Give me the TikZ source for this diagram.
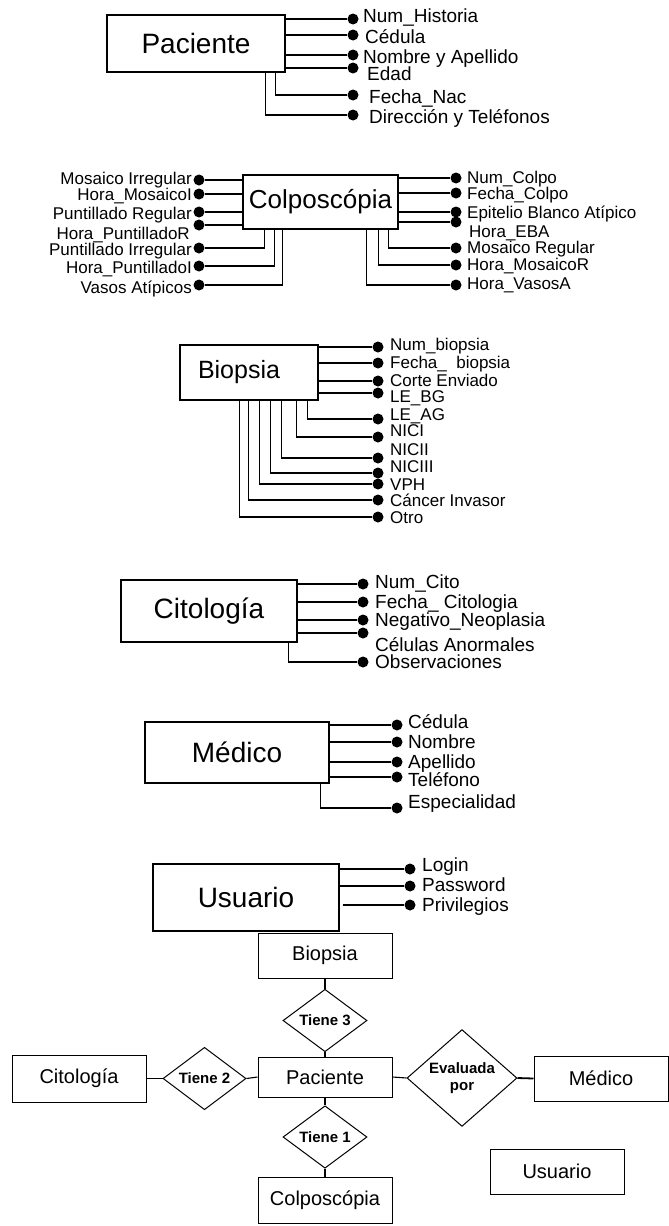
\documentclass[tikz,border=0pt]{standalone}
\usepackage{fontspec}
\setmainfont{Liberation Sans}
\usetikzlibrary{shapes.geometric}
\begin{document}
\begin{tikzpicture}[x=1pt,y=-1pt,
  ent/.style={draw, line width=1.1pt, inner sep=0, font=\fontsize{28}{28}\selectfont},
  entS/.style={ent, font=\fontsize{26}{26}\selectfont},
  ent2/.style={draw, line width=1pt, inner sep=0, minimum width=134, font=\fontsize{20}{20}\selectfont},
  rel/.style={draw, diamond, line width=1pt, inner sep=0, font=\fontsize{15}{17}\selectfont\bfseries, align=center},
  dotn/.style={circle, fill=black, inner sep=0, minimum size=11},
  attr/.style={anchor=west, inner sep=0, text height=12.2, text depth=0, font=\fontsize{17}{17}\selectfont},
  lattr/.style={attr, anchor=east},
  attrL/.style={anchor=west, inner sep=0, text height=13.6, text depth=0, font=\fontsize{19}{19}\selectfont},
  link/.style={line width=1.1pt},
]
\fill[white] (0,0) rectangle (669,1226);
\useasboundingbox (0,0) rectangle (669,1226);

% ---------------- Paciente ----------------
\node[ent, minimum width=178, minimum height=57] (pA) at (196,43.5) {Paciente};
\node[dotn] (pA1) at (353,19) {};
\node[dotn] (pA2) at (353,35) {};
\node[dotn] (pA3) at (353,55) {};
\node[dotn] (pA4) at (353,68) {};
\node[dotn] (pA5) at (353,95) {};
\node[dotn] (pA6) at (353,115) {};
\draw[link] (pA.east |- pA1) -- (pA1);
\draw[link] (pA.east |- pA2) -- (pA2);
\draw[link] (pA.east |- pA3) -- (pA3);
\draw[link] (pA.east |- pA4) -- (pA4);
\draw[link] (pA.south east) ++(-10,0) |- (pA5);
\draw[link] (pA.south east) ++(-20,0) |- (pA6);
\node[attrL] (pA1t) at (363,16) {Num\_Historia};
\node[attrL] (pA2t) at (365,37) {Cédula};
\node[attrL] (pA3t) at (363,57) {Nombre y Apellido};
\node[attrL] (pA4t) at (367,74) {Edad};
\node[attrL] (pA5t) at (369,97) {Fecha\_Nac};
\node[attrL] (pA6t) at (369,117) {Dirección y Teléfonos};

% ---------------- Colposcopia ----------------
\node[entS, minimum width=155, minimum height=54] (cB) at (320.5,202) {Colposcópia};
\node[dotn] (cR1) at (456,178) {};
\node[dotn] (cR2) at (456,193) {};
\node[dotn] (cR3) at (456,212) {};
\node[dotn] (cR4) at (456,222) {};
\node[dotn] (cR5) at (456,248) {};
\node[dotn] (cR6) at (456,265) {};
\node[dotn] (cR7) at (456,285) {};
\draw[link] (cB.east |- cR1) -- (cR1);
\draw[link] (cB.east |- cR2) -- (cR2);
\draw[link] (cB.east |- cR3) -- (cR3);
\draw[link] (cB.east |- cR4) -- (cR4);
\draw[link] (cB.south east) ++(-10,0) |- (cR5);
\draw[link] (cB.south east) ++(-20,0) |- (cR6);
\draw[link] (cB.south east) ++(-32,0) |- (cR7);
\node[attr] (cR1t) at (467,177) {Num\_Colpo};
\node[attr] (cR2t) at (467,193) {Fecha\_Colpo};
\node[attr] (cR3t) at (467,212) {Epitelio Blanco Atípico};
\node[attr] (cR4t) at (469,231) {Hora\_EBA};
\node[attr] (cR5t) at (467,247) {Mosaico Regular};
\node[attr] (cR6t) at (467,264) {Hora\_MosaicoR};
\node[attr] (cR7t) at (467,283) {Hora\_VasosA};
\node[dotn] (cL1) at (199,180) {};
\node[dotn] (cL2) at (199,194) {};
\node[dotn] (cL3) at (199,212) {};
\node[dotn] (cL4) at (199,225) {};
\node[dotn] (cL5) at (199,248) {};
\node[dotn] (cL6) at (199,266) {};
\node[dotn] (cL7) at (199,285) {};
\draw[link] (cB.west |- cL1) -- (cL1);
\draw[link] (cB.west |- cL2) -- (cL2);
\draw[link] (cB.west |- cL3) -- (cL3);
\draw[link] (cB.west |- cL4) -- (cL4);
\draw[link] (cB.south west) ++(22,0) |- (cL5);
\draw[link] (cB.south west) ++(32,0) |- (cL6);
\draw[link] (cB.south west) ++(40,0) |- (cL7);
\node[lattr] (cL1t) at (192,178) {Mosaico Irregular};
\node[lattr] (cL2t) at (192,194) {Hora\_MosaicoI};
\node[lattr] (cL3t) at (192,213) {Puntillado Regular};
\node[lattr] (cL4t) at (190,233) {Hora\_PuntilladoR};
\node[lattr] (cL5t) at (192,249) {Puntillado Irregular};
\node[lattr] (cL6t) at (192,267) {Hora\_PuntilladoI};
\node[lattr] (cL7t) at (192,287) {Vasos Atípicos};

% ---------------- Biopsia ----------------
\node[draw, line width=1.1pt, minimum width=138, minimum height=55] (bA) at (249,372.5) {};
\node[inner sep=0, font=\fontsize{25}{25}\selectfont] (bAt) at (239,372.5) {Biopsia};
\node[dotn] (b1) at (378,347) {};
\node[dotn] (b2) at (378,363) {};
\node[dotn] (b3) at (378,381) {};
\node[dotn] (b4) at (378,393) {};
\node[dotn] (b5) at (378,419) {};
\node[dotn] (b6) at (378,437) {};
\node[dotn] (b7) at (378,458) {};
\node[dotn] (b8) at (378,473) {};
\node[dotn] (b9) at (378,484) {};
\node[dotn] (b10) at (378,500) {};
\node[dotn] (b11) at (378,517) {};
\draw[link] (bA.east |- b1) -- (b1);
\draw[link] (bA.east |- b2) -- (b2);
\draw[link] (bA.east |- b3) -- (b3);
\draw[link] (bA.east |- b4) -- (b4);
\draw[link] (bA.south west) ++(128,0) |- (b5);
\draw[link] (bA.south west) ++(117,0) |- (b6);
\draw[link] (bA.south west) ++(102,0) |- (b7);
\draw[link] (bA.south west) ++(91,0) |- (b8);
\draw[link] (bA.south west) ++(80,0) |- (b9);
\draw[link] (bA.south west) ++(69,0) |- (b10);
\draw[link] (bA.south west) ++(60,0) |- (b11);
\node[attr] (b1t) at (390,344) {Num\_biopsia};
\node[attr] (b2t) at (390,362) {Fecha\_\ \ biopsia};
\node[attr] (b3t) at (390,380) {Corte Enviado};
\node[attr] (b4t) at (390,396) {LE\_BG};
\node[attr] (b5t) at (390,414) {LE\_AG};
\node[attr] (b6t) at (390,430) {NICI};
\node[attr] (b7t) at (390,449) {NICII};
\node[attr] (b8t) at (390,466) {NICIII};
\node[attr] (b9t) at (390,484) {VPH};
\node[attr] (b10t) at (390,500) {Cáncer Invasor};
\node[attr] (b11t) at (390,517) {Otro};

% ---------------- Citologia ----------------
\node[ent, minimum width=176, minimum height=62] (ciA) at (209,611) {Citología};
\node[dotn] (ci1) at (363,584) {};
\node[dotn] (ci2) at (363,602) {};
\node[dotn] (ci3) at (363,620) {};
\node[dotn] (ci4) at (363,633) {};
\node[dotn] (ci5) at (363,662) {};
\draw[link] (ciA.east |- ci1) -- (ci1);
\draw[link] (ciA.east |- ci2) -- (ci2);
\draw[link] (ciA.east |- ci3) -- (ci3);
\draw[link] (ciA.east |- ci4) -- (ci4);
\draw[link] (ciA.south east) ++(-9,0) |- (ci5);
\node[attrL] (ci1t) at (375,582) {Num\_Cito};
\node[attrL] (ci2t) at (375,602) {Fecha\_ Citologia};
\node[attrL] (ci3t) at (375,620) {Negativo\_Neoplasia};
\node[attrL] (ci4t) at (375,645) {Células Anormales};
\node[attrL] (ci5t) at (375,662) {Observaciones};

% ---------------- Medico ----------------
\node[ent, minimum width=184, minimum height=61] (mA) at (237,752.5) {Médico};
\node[dotn] (m1) at (397,725) {};
\node[dotn] (m2) at (397,742) {};
\node[dotn] (m3) at (397,762) {};
\node[dotn] (m4) at (397,777) {};
\node[dotn] (m5) at (397,808) {};
\draw[link] (mA.east |- m1) -- (m1);
\draw[link] (mA.east |- m2) -- (m2);
\draw[link] (mA.east |- m3) -- (m3);
\draw[link] (mA.east |- m4) -- (m4);
\draw[link] (mA.south east) ++(-9,0) |- (m5);
\node[attrL] (m1t) at (408,722) {Cédula};
\node[attrL] (m2t) at (408,742) {Nombre};
\node[attrL] (m3t) at (408,762) {Apellido};
\node[attrL] (m4t) at (408,780) {Teléfono};
\node[attrL] (m5t) at (408,802) {Especialidad};

% ---------------- Usuario ----------------
\node[ent, minimum width=186, minimum height=67] (uA) at (246,897.5) {Usuario};
\node[dotn] (u1) at (410,869) {};
\node[dotn] (u2) at (410,886) {};
\node[dotn] (u3) at (410,905) {};
\draw[link] (uA.east |- u1) -- (u1);
\draw[link] (uA.east |- u2) -- (u2);
\draw[link] ([xshift=3pt]uA.east |- u3) -- (u3);
\node[attrL] (u1t) at (422,865) {Login};
\node[attrL] (u2t) at (422,885) {Password};
\node[attrL] (u3t) at (422,905) {Privilegios};

% ---------------- ER diagram ----------------
\node[ent2, minimum height=45] (eB) at (325,955.5) {Biopsia};
\node[rel, minimum width=84, minimum height=51] (r3) at (325,1020.5) {Tiene 3};
\node[ent2, minimum height=40] (eP) at (325,1077) {Paciente};
\node[ent2, minimum height=47] (eCi) at (79,1078.5) {Citología};
\node[rel, minimum width=83, minimum height=51] (r2) at (204.5,1078.5) {Tiene 2};
\node[rel, minimum width=84, minimum height=50] (r1) at (325,1137) {Tiene 1};
\node[ent2, minimum height=46] (eC) at (325,1200) {Colposcópia};
\node[rel, minimum width=110, minimum height=64] (rE) at (462,1078) {Evaluada\\por};
\node[ent2, minimum height=45] (eM) at (601,1078.5) {Médico};
\node[ent2, minimum height=45] (eU) at (557,1171.5) {Usuario};
\draw[link] (eB.south) -- (r3.north);
\draw[link] (r3.south) -- (eP.north);
\draw[link] (eP.south) -- (r1.north);
\draw[link] (r1.south) -- (eC.north);
\draw[link] (eCi.east) -- (r2.west);
\draw[link] (r2.east) -- (eP.west);
\draw[link] (eP.east) -- (rE.west);
\draw[line width=1.8pt] (rE.east) -- (eM.west);
\end{tikzpicture}
\end{document}
